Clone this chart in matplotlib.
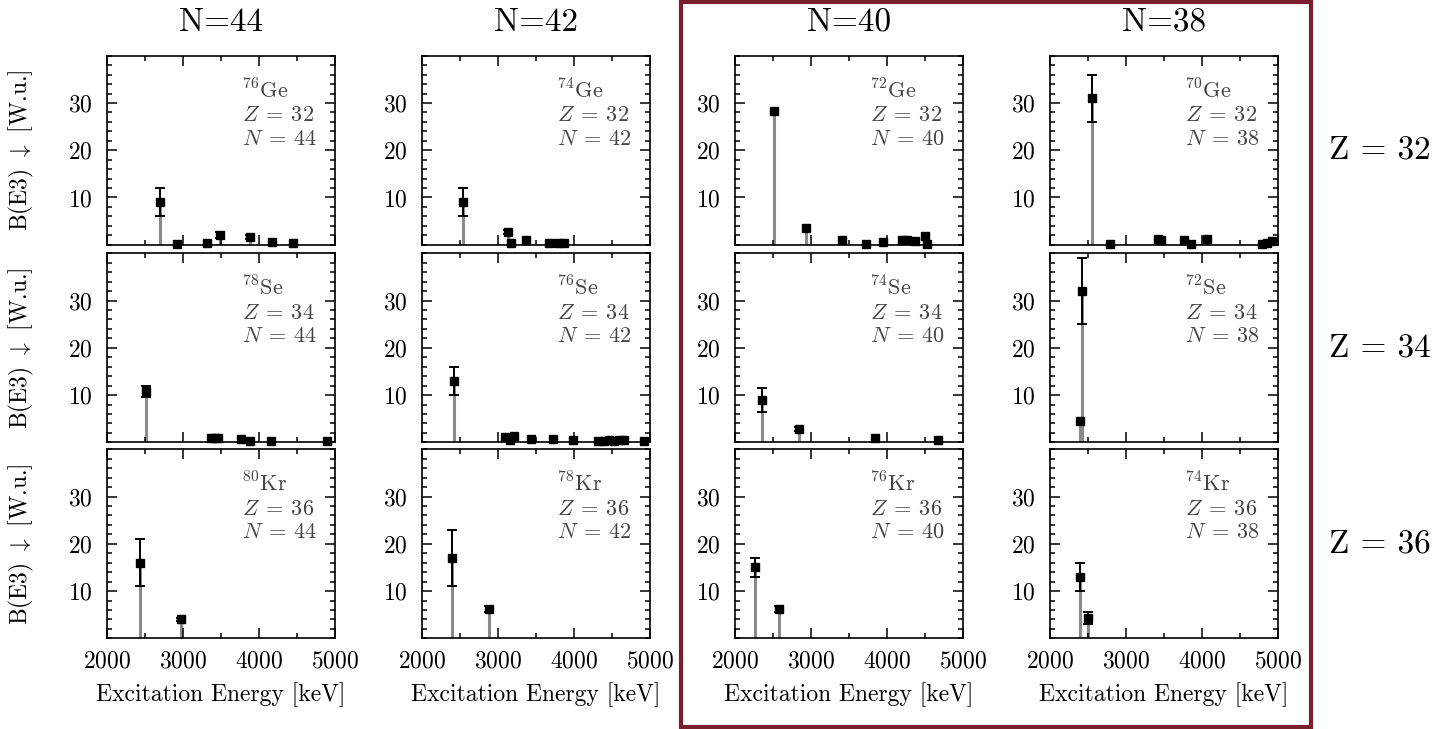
import numpy as np
import matplotlib.pyplot as plt
from matplotlib.ticker import MultipleLocator
from matplotlib.patches import Rectangle

plt.rcParams['font.family'] = 'cmr10'
plt.rcParams['mathtext.fontset'] = 'cm'
plt.rcParams['axes.unicode_minus'] = False
plt.rcParams['axes.formatter.use_mathtext'] = True

# octupole strengths: energy [keV], B(E3) [W.u.], uncertainty
ge76_e = [2693, 2921, 3312, 3483, 3886, 4171, 4447]
ge76_b = [9.0, 0.2, 0.3, 2.0, 1.7, 0.6, 0.4]
ge76_err = [3.0, 0, 0, 0.6, 0.4, 0, 0]

ge74_e = [2539, 3131, 3171, 3372, 3675, 3789, 3872]
ge74_b = [9.0, 2.7, 0.4, 1.1, 0.4, 0.4, 0.4]
ge74_err = [3.0, 0.5, 0, 0, 0, 0, 0]

ge72_e = [2517, 2938, 3408, 3720, 3951, 4197, 4267, 4364, 4496, 4530]
ge72_b = [28.4, 3.6, 1.1, 0.2, 0.6, 1.0, 1.0, 0.7, 1.9, 0.2]
ge72_err = [0, 0, 0, 0, 0, 0, 0, 0, 0, 0]

ge70_e = [2548, 2789, 3425, 3460, 3759, 3851, 4070, 4785, 4851, 4917]
ge70_b = [31.0, 0.2, 1.2, 0.9, 1.1, 0.2, 1.2, 0.2, 0.4, 0.7]
ge70_err = [5.0, 0, 0, 0, 0, 0, 0.3, 0, 0, 0]

se78_e = [2509, 3373, 3417, 3461, 3768, 3878, 4154, 4895]
se78_b = [10.8, 0.85, 0.85, 0.85, 0.7, 0.2, 0.2, 0.3]
se78_err = [1.2, 0, 0, 0, 0, 0, 0, 0]

se76_e = [2425, 3087, 3153, 3205, 3438, 3718, 3991, 4316, 4390, 4455,
          4521, 4587, 4653, 4925]
se76_b = [13.0, 1.1, 0.4, 1.4, 0.7, 0.6, 0.4, 0.3, 0.3, 0.4,
          0.2, 0.4, 0.4, 0.2]
se76_err = [3.0, 0, 0, 0, 0, 0, 0, 0, 0, 0, 0, 0, 0, 0]

se74_e = [2351, 2842, 3842, 4667]
se74_b = [9.0, 2.8, 0.85, 0.5]
se74_err = [2.5, 0.5, 0, 0]

se72_e = [2395, 2425]
se72_b = [4.6, 32.0]
se72_err = [0, 7.0]

kr80_e = [2439, 2970]
kr80_b = [16.0, 4.0]
kr80_err = [5.0, 0.3]

kr78_e = [2395, 2877]
kr78_b = [17.0, 6.2]
kr78_err = [6.0, 0.6]

kr76_e = [2259, 2583]
kr76_b = [15.0, 6.2]
kr76_err = [2.0, 0.6]

kr74_e = [2395, 2504]
kr74_b = [13.0, 4.3]
kr74_err = [3.0, 1.3]

n_values = [44, 42, 40, 38]
z_values = [32, 34, 36]
elements = ['Ge', 'Se', 'Kr']

panels = [
    [(ge76_e, ge76_b, ge76_err), (ge74_e, ge74_b, ge74_err),
     (ge72_e, ge72_b, ge72_err), (ge70_e, ge70_b, ge70_err)],
    [(se78_e, se78_b, se78_err), (se76_e, se76_b, se76_err),
     (se74_e, se74_b, se74_err), (se72_e, se72_b, se72_err)],
    [(kr80_e, kr80_b, kr80_err), (kr78_e, kr78_b, kr78_err),
     (kr76_e, kr76_b, kr76_err), (kr74_e, kr74_b, kr74_err)],
]

W, H = 1437, 729
fig = plt.figure(figsize=(W / 100, H / 100), dpi=100)

col_left = [107, 422, 735, 1050]
row_top = [55.7, 253.3, 449.3]
ax_w, ax_h = 228, 189

for i, z in enumerate(z_values):
    for j, n in enumerate(n_values):
        ax = fig.add_axes([col_left[j] / W, 1 - (row_top[i] + ax_h) / H,
                           ax_w / W, ax_h / H])
        e, b, err = panels[i][j]
        e = np.array(e)
        b = np.array(b)
        err = np.array(err)

        ax.vlines(e, 0, b, color='#8a8a8a', lw=2.2, zorder=1)
        has_err = err > 0
        ax.errorbar(e[has_err], b[has_err], yerr=err[has_err], fmt='none',
                    ecolor='black', elinewidth=1.4, capsize=3.5,
                    capthick=1.4, zorder=2)
        ax.plot(e, b, 's', color='black', ms=6, zorder=3, clip_on=False)

        ax.set_xlim(2000, 5000)
        ax.set_ylim(0, 40)
        ax.set_xticks([2000, 3000, 4000, 5000])
        ax.set_yticks([10, 20, 30])
        ax.xaxis.set_minor_locator(MultipleLocator(500))
        ax.yaxis.set_minor_locator(MultipleLocator(2))
        ax.tick_params(which='both', direction='in', top=True, right=True,
                       width=1.1, labelsize=17)
        ax.tick_params(which='major', length=7)
        ax.tick_params(which='minor', length=3.5)
        ax.tick_params(axis='x', pad=9)
        ax.tick_params(axis='y', pad=10)
        for sp in ax.spines.values():
            sp.set_linewidth(1.2)

        if i < 2:
            ax.tick_params(labelbottom=False)
        else:
            ax.set_xlabel('Excitation Energy [keV]', fontsize=17, labelpad=7)
        if j == 0:
            ax.set_ylabel(r'B(E3) $\downarrow$ [W.u.]', fontsize=17)
            ax.yaxis.set_label_coords(-0.31, 0.5)

        a = z + n
        kw = dict(transform=ax.transAxes, fontsize=16, color='#444444',
                  va='baseline', ha='left')
        ax.text(0.59, 0.776, r'$^{%d}$%s' % (a, elements[i]), **kw)
        ax.text(0.59, 0.654, r'$Z\:=\:%d$' % z, **kw)
        ax.text(0.59, 0.53, r'$N\:=\:%d$' % n, **kw)

# column headings and row labels
for j, n in enumerate(n_values):
    fig.text((col_left[j] + ax_w / 2) / W, 1 - 22 / H, 'N=%d' % n,
             fontsize=24, ha='center', va='center')
for i, z in enumerate(z_values):
    fig.text(1380 / W, 1 - (row_top[i] + ax_h / 2) / H, 'Z = %d' % z,
             fontsize=24, ha='center', va='center')

# frame around the N=40 and N=38 columns
frame = Rectangle((681 / W, 2 / H), (1311 - 681) / W, 725 / H,
                  transform=fig.transFigure, fill=False,
                  edgecolor='#7a1e2d', lw=3, clip_on=False)
fig.patches.append(frame)

fig.savefig('out.png', dpi=100)
plt.close()
